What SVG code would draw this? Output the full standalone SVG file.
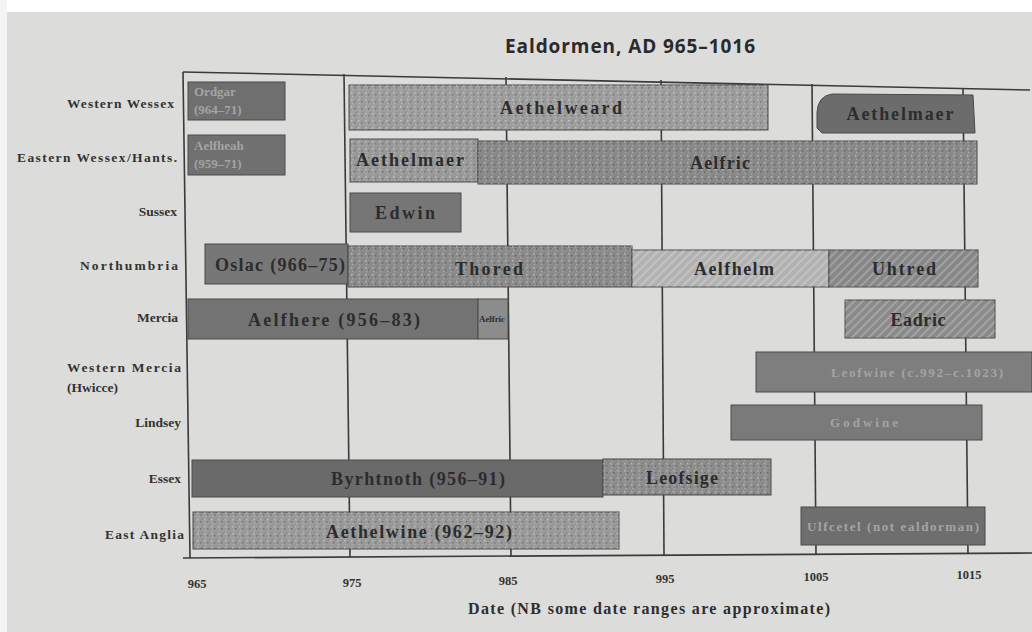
<svg xmlns="http://www.w3.org/2000/svg" width="1032" height="632" viewBox="0 0 1032 632">
<defs>
<style>
.lab{font-family:"Liberation Serif",serif;font-weight:bold;font-size:13.5px;fill:#333;}
.bl{font-family:"Liberation Serif",serif;font-weight:bold;font-size:18px;fill:#2c2c2c;}
.bs{font-family:"Liberation Serif",serif;font-weight:bold;font-size:13px;fill:#a4a4a4;}
.tick{font-family:"Liberation Serif",serif;font-weight:bold;font-size:12.5px;fill:#333;}
.bar{stroke:#4a4a4a;stroke-width:1;}
.grid{stroke:#3a3a3a;stroke-width:1.6;fill:none;}
</style>
<pattern id="speck" width="7" height="7" patternUnits="userSpaceOnUse">
<rect x="1" y="1" width="1.5" height="1.5" fill="#ffffff" opacity="0.35"/>
<rect x="4" y="3" width="1.5" height="1.5" fill="#000" opacity="0.25"/>
<rect x="2" y="5" width="1.2" height="1.2" fill="#ffffff" opacity="0.25"/>
<rect x="5.5" y="0.5" width="1" height="1" fill="#000" opacity="0.2"/>
</pattern>
<pattern id="hatch" width="6" height="6" patternUnits="userSpaceOnUse" patternTransform="rotate(45)">
<rect x="0" y="0" width="2" height="6" fill="#ffffff" opacity="0.22"/>
</pattern>
</defs>
<rect width="1032" height="632" fill="#dcdcda"/>
<rect width="1032" height="12" fill="#ffffff"/>
<rect width="7" height="632" fill="#f4f4f4"/>

<text x="630" y="53" text-anchor="middle" font-family="Open Sans, sans-serif" font-weight="bold" font-size="19" fill="#2a2a2a" textLength="250">Ealdormen, AD 965–1016</text>

<g id="frame">
<line class="grid" x1="183" y1="72" x2="1030" y2="90"/>
<line class="grid" x1="183" y1="72" x2="190" y2="558"/>
<line class="grid" x1="183" y1="558" x2="1032" y2="553"/>
<line class="grid" x1="344" y1="74" x2="350" y2="557"/>
<line class="grid" x1="506" y1="77" x2="511" y2="556"/>
<line class="grid" x1="661" y1="80" x2="664" y2="555"/>
<line class="grid" x1="812" y1="84" x2="816" y2="554"/>
<line class="grid" x1="963" y1="88" x2="968" y2="554"/>
</g>

<g id="axis-labels">
<text class="tick" x="197" y="588" text-anchor="middle">965</text>
<text class="tick" x="352" y="587" text-anchor="middle">975</text>
<text class="tick" x="508" y="585" text-anchor="middle">985</text>
<text class="tick" x="665" y="583" text-anchor="middle">995</text>
<text class="tick" x="816" y="581" text-anchor="middle">1005</text>
<text class="tick" x="969" y="579" text-anchor="middle">1015</text>
<text x="649" y="614" text-anchor="middle" font-family="Liberation Serif, serif" font-weight="bold" font-size="16" fill="#2e2e2e" textLength="362">Date (NB some date ranges are approximate)</text>
</g>

<g id="row-labels">
<text class="lab" x="174" y="108" text-anchor="end" textLength="107">Western Wessex</text>
<text class="lab" x="177" y="162" text-anchor="end" textLength="160">Eastern Wessex/Hants.</text>
<text class="lab" x="177" y="216" text-anchor="end">Sussex</text>
<text class="lab" x="178" y="270" text-anchor="end" textLength="98">Northumbria</text>
<text class="lab" x="178" y="322" text-anchor="end">Mercia</text>
<text class="lab" x="67" y="372" textLength="114">Western Mercia</text>
<text class="lab" x="67" y="392">(Hwicce)</text>
<text class="lab" x="181" y="427" text-anchor="end">Lindsey</text>
<text class="lab" x="181" y="483" text-anchor="end">Essex</text>
<text class="lab" x="184" y="539" text-anchor="end" textLength="79">East Anglia</text>
</g>

<g id="western-wessex">
<rect class="bar" x="188" y="82" width="97" height="38" fill="#6f6f6f"/>
<text class="bs" x="194" y="96">Ordgar</text>
<text class="bs" x="194" y="114">(964–71)</text>
<rect class="bar" x="349" y="85" width="419" height="45" fill="#9e9e9e"/>
<rect x="349" y="85" width="419" height="45" fill="url(#speck)"/>
<text class="bl" x="561" y="114" text-anchor="middle" textLength="122">Aethelweard</text>
<path class="bar" d="M832,94 L973,95 L975,133 L822,133 L817,128 L817,112 Q818,96 832,94 Z" fill="#6c6c6c"/>
<text class="bl" x="900" y="120" text-anchor="middle" textLength="107">Aethelmaer</text>
</g>

<g id="eastern-wessex">
<rect class="bar" x="188" y="135" width="97" height="40" fill="#707070"/>
<text class="bs" x="194" y="150">Aelfheah</text>
<text class="bs" x="194" y="168">(959–71)</text>
<rect class="bar" x="350" y="139" width="128" height="43" fill="#9a9a9a"/>
<rect x="350" y="139" width="128" height="43" fill="url(#speck)"/>
<text class="bl" x="356" y="166" textLength="108">Aethelmaer</text>
<rect class="bar" x="478" y="141" width="499" height="43" fill="#8a8a8a"/>
<rect x="478" y="141" width="499" height="43" fill="url(#speck)"/>
<text class="bl" x="720" y="169" text-anchor="middle" textLength="60">Aelfric</text>
</g>

<g id="sussex">
<rect class="bar" x="350" y="193" width="111" height="39" fill="#767676"/>
<text class="bl" x="405" y="219" text-anchor="middle" fill="#505050" textLength="60">Edwin</text>
</g>

<g id="northumbria">
<rect class="bar" x="205" y="244" width="143" height="40" fill="#777777"/>
<text class="bl" x="280" y="271" text-anchor="middle" textLength="130">Oslac (966–75)</text>
<rect class="bar" x="348" y="246" width="284" height="41" fill="#8c8c8c"/>
<rect x="348" y="246" width="284" height="41" fill="url(#speck)"/>
<text class="bl" x="489" y="275" text-anchor="middle" textLength="68">Thored</text>
<rect class="bar" x="632" y="250" width="197" height="37" fill="#b2b2b2"/>
<rect x="632" y="250" width="197" height="37" fill="url(#hatch)"/>
<text class="bl" x="734" y="275" text-anchor="middle" textLength="80">Aelfhelm</text>
<rect class="bar" x="829" y="250" width="149" height="37" fill="#878787"/>
<rect x="829" y="250" width="149" height="37" fill="url(#hatch)"/>
<text class="bl" x="904" y="275" text-anchor="middle" textLength="64">Uhtred</text>
</g>

<g id="mercia">
<rect class="bar" x="188" y="299" width="290" height="40" fill="#737373"/>
<text class="bl" x="334" y="326" text-anchor="middle" textLength="172">Aelfhere (956–83)</text>
<rect class="bar" x="478" y="299" width="30" height="40" fill="#8c8c8c"/>
<text x="492" y="322" text-anchor="middle" font-family="Liberation Serif, serif" font-weight="bold" font-size="9" fill="#2c2c2c" textLength="26">Aelfric</text>
<rect class="bar" x="845" y="300" width="150" height="38" fill="#8a8a8a"/>
<rect x="845" y="300" width="150" height="38" fill="url(#hatch)"/>
<text class="bl" x="918" y="326" text-anchor="middle" textLength="55">Eadric</text>
</g>

<g id="western-mercia">
<rect class="bar" x="756" y="352" width="276" height="40" fill="#7e7e7e"/>
<text class="bs" x="917" y="377" text-anchor="middle" textLength="172">Leofwine (c.992–c.1023)</text>
</g>

<g id="lindsey">
<rect class="bar" x="731" y="405" width="251" height="35" fill="#7a7a7a"/>
<text class="bs" x="864" y="427" text-anchor="middle" textLength="68">Godwine</text>
</g>

<g id="essex">
<rect class="bar" x="192" y="460" width="411" height="37" fill="#6a6a6a"/>
<text class="bl" x="418" y="485" text-anchor="middle" textLength="174">Byrhtnoth (956–91)</text>
<rect class="bar" x="603" y="459" width="168" height="36" fill="#8e8e8e"/>
<rect x="603" y="459" width="168" height="36" fill="url(#speck)"/>
<text class="bl" x="682" y="484" text-anchor="middle" textLength="72">Leofsige</text>
</g>

<g id="east-anglia">
<rect class="bar" x="193" y="512" width="426" height="37" fill="#9a9a9a"/>
<rect x="193" y="512" width="426" height="37" fill="url(#speck)"/>
<text class="bl" x="419" y="538" text-anchor="middle" textLength="186">Aethelwine (962–92)</text>
<rect class="bar" x="801" y="507" width="184" height="38" fill="#6e6e6e"/>
<text class="bs" x="893" y="531" text-anchor="middle" fill="#9a9a9a" textLength="172">Ulfcetel (not ealdorman)</text>
</g>
</svg>
